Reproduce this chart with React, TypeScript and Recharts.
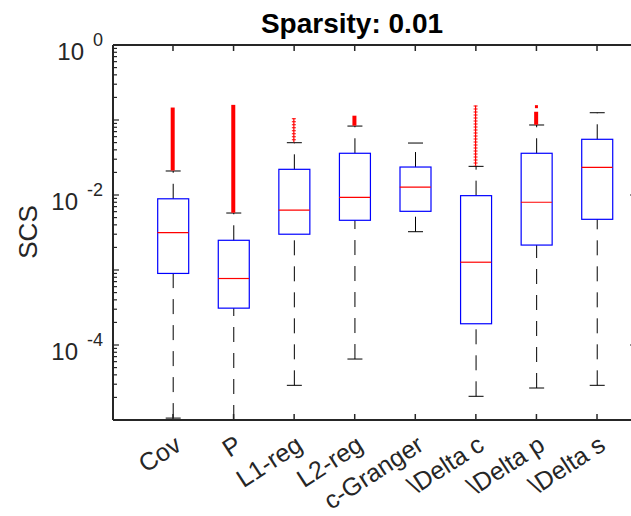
import { ComposedChart, Bar, Scatter, XAxis, YAxis } from 'recharts';

// one box per method
const methods = ['Cov', 'P', 'L1-reg', 'L2-reg', 'c-Granger', '\\Delta c', '\\Delta p', '\\Delta s'];
const lowerWhisker = [1.06e-5, 1.0e-5, 2.9e-5, 6.5e-5, 3.24e-3, 2.07e-5, 2.67e-5, 2.9e-5];
const q1 = [9.0e-4, 3.1e-4, 3.0e-3, 4.6e-3, 6.06e-3, 1.92e-4, 2.15e-3, 4.74e-3];
const medians = [3.15e-3, 7.7e-4, 6.3e-3, 9.3e-3, 1.27e-2, 1.27e-3, 8.0e-3, 2.34e-2];
const q3 = [8.9e-3, 2.49e-3, 2.2e-2, 3.6e-2, 2.36e-2, 9.8e-3, 3.6e-2, 5.53e-2];
const upperWhisker = [2.09e-2, 5.75e-3, 4.98e-2, 8.3e-2, 4.93e-2, 2.41e-2, 8.58e-2, 1.25e-1];
// outliers are so dense they read as one red column from bottom to top
const outlierLow = [2.12e-2, 5.8e-3, 5.05e-2, 8.4e-2, null, 2.45e-2, 8.65e-2, null];
const outlierHigh = [0.14, 0.152, 0.102, 0.109, null, 0.151, 0.123, null];
const farOutliers = [null, null, null, null, null, null, 0.1506, null];

const yDecades = [1e-5, 1e-4, 1e-3, 1e-2, 1e-1, 1];
const yLabelled = [-4, -2, 0];
const sparseOutliers = ['L1-reg', '\\Delta c'];

const yTicks: number[] = [...yDecades];
yDecades.slice(0, -1).forEach(d => {
  for (let m = 2; m <= 9; m++) yTicks.push(m * d);
});

const data = methods.map((name, i) => ({
  name,
  lo: lowerWhisker[i],
  q1: q1[i],
  median: medians[i],
  q3: q3[i],
  hi: upperWhisker[i],
  outLo: outlierLow[i],
  outHi: outlierHigh[i],
  far: farOutliers[i],
}));

const FONT = '"Liberation Sans", Arial, Helvetica, sans-serif';
const AXIS = '#262626';
const CHART_W = 700;
const CHART_H = 516;
const xPadding = { left: 29.7, right: 8.7 };

function isMajor(v: number) {
  const e = Math.log10(v);
  return Math.abs(e - Math.round(e)) < 1e-6;
}

function LeftTick(props: any) {
  const { x, y, payload } = props;
  const v = payload.value;
  const major = isMajor(v);
  const e = Math.round(Math.log10(v));
  return (
    <g>
      <line x1={x} x2={x + (major ? 6 : 4)} y1={y} y2={y} stroke={AXIS} strokeWidth={1.2} />
      {major && yLabelled.includes(e) && (
        <text x={x - 10} y={y + 15} textAnchor="end" fontSize={24} fill={AXIS} fontFamily={FONT}>
          10
          <tspan dx={9} dy={-14} fontSize={18}>
            {String(e)}
          </tspan>
        </text>
      )}
    </g>
  );
}

function RightTick(props: any) {
  const { x, y, payload } = props;
  const len = isMajor(payload.value) && yLabelled.includes(Math.round(Math.log10(payload.value))) ? 6 : 4;
  return <line x1={x} x2={x - len} y1={y} y2={y} stroke={AXIS} strokeWidth={1.2} />;
}

function BottomTick(props: any) {
  const { x, y, payload } = props;
  const tx = x + 10;
  const ty = y + 29;
  return (
    <g>
      <line x1={x} x2={x} y1={y} y2={y - 6} stroke={AXIS} strokeWidth={1.5} />
      <text
        x={tx}
        y={ty}
        transform={`rotate(-33, ${tx}, ${ty})`}
        textAnchor="end"
        fontSize={25}
        fill={AXIS}
        fontFamily={FONT}
      >
        {payload.value}
      </text>
    </g>
  );
}

function TopTick(props: any) {
  const { x, y } = props;
  return <line x1={x} x2={x} y1={y} y2={y + 6} stroke={AXIS} strokeWidth={1.5} />;
}

const ok = (...n: number[]) => n.every(v => Number.isFinite(v));

// whiskers are drawn from their lower end upward, like MATLAB does
function LowerWhisker(props: any) {
  const { x, y, width, height } = props;
  if (!ok(x, y, width, height)) return <g />;
  const cx = x + width / 2;
  return (
    <g>
      <line x1={cx} x2={cx} y1={y + height} y2={y} stroke="#000" strokeWidth={1} strokeDasharray="15 11" />
      <line x1={x} x2={x + width} y1={y + height} y2={y + height} stroke="#000" strokeWidth={1} />
    </g>
  );
}

function UpperWhisker(props: any) {
  const { x, y, width, height } = props;
  if (!ok(x, y, width, height)) return <g />;
  const cx = x + width / 2;
  return (
    <g>
      <line x1={cx} x2={cx} y1={y + height} y2={y} stroke="#000" strokeWidth={1} strokeDasharray="15 11" />
      <line x1={x} x2={x + width} y1={y} y2={y} stroke="#000" strokeWidth={1} />
    </g>
  );
}

function BoxShape(props: any) {
  const { x, y, width, height } = props;
  if (!ok(x, y, width, height)) return <g />;
  return <rect x={x} y={y} width={width} height={height} fill="none" stroke="#0000ff" strokeWidth={1.2} />;
}

function OutlierShape(props: any) {
  const { x, y, width, height, payload } = props;
  if (!payload || payload.outHi == null || !ok(x, y, width, height)) return <g />;
  const cx = x + width / 2;
  if (sparseOutliers.includes(payload.name)) {
    return (
      <g>
        <line x1={cx} x2={cx} y1={y - 1} y2={y + height} stroke="#ff0000" strokeWidth={1.2} />
        <line x1={cx} x2={cx} y1={y - 1} y2={y + height} stroke="#ff0000" strokeWidth={4} strokeDasharray="1 2" />
      </g>
    );
  }
  return <rect x={cx - 2} y={y - 1.5} width={4} height={height + 1.5} fill="#ff0000" />;
}

function MedianShape(props: any) {
  const { cx, cy } = props;
  if (!ok(cx, cy)) return <g />;
  return <line x1={cx - 15.5} x2={cx + 15.5} y1={cy} y2={cy} stroke="#ff0000" strokeWidth={1.2} />;
}

function FarOutlierShape(props: any) {
  const { cx, cy, payload } = props;
  if (!payload || payload.far == null || !ok(cx, cy)) return <g />;
  return <rect x={cx - 1.5} y={cy - 1.5} width={3} height={3} fill="#ff0000" />;
}

export default function App() {
  return (
    <div style={{ position: 'absolute', left: 0, top: 0, width: 631, height: 516, overflow: 'hidden', background: '#fff' }}>
      <ComposedChart
        width={CHART_W}
        height={CHART_H}
        data={data}
        margin={{ top: 40, right: 54, bottom: 36, left: 53 }}
      >
        <XAxis
          xAxisId="x"
          dataKey="name"
          height={60}
          padding={xPadding}
          interval={0}
          tickSize={0}
          tickMargin={0}
          tickLine={false}
          tick={<BottomTick />}
          axisLine={{ stroke: AXIS, strokeWidth: 2 }}
        />
        <XAxis
          xAxisId="top"
          orientation="top"
          dataKey="name"
          height={5}
          padding={xPadding}
          interval={0}
          tickSize={0}
          tickMargin={0}
          tickLine={false}
          tick={<TopTick />}
          axisLine={{ stroke: AXIS, strokeWidth: 2 }}
        />
        {/* helper axes so each box part gets its own full-width band */}
        <XAxis xAxisId="b" orientation="top" dataKey="name" height={0} padding={xPadding} hide />
        <XAxis xAxisId="c" orientation="top" dataKey="name" height={0} padding={xPadding} hide />
        <XAxis xAxisId="d" orientation="top" dataKey="name" height={0} padding={xPadding} hide />
        <YAxis
          yAxisId="y"
          type="number"
          scale="log"
          domain={[1e-5, 1]}
          allowDataOverflow
          ticks={yTicks}
          interval={0}
          width={60}
          tickSize={0}
          tickMargin={0}
          tickLine={false}
          tick={<LeftTick />}
          axisLine={{ stroke: AXIS, strokeWidth: 2 }}
        />
        <YAxis
          yAxisId="right"
          orientation="right"
          type="number"
          scale="log"
          domain={[1e-5, 1]}
          allowDataOverflow
          ticks={yTicks}
          interval={0}
          width={10}
          tickSize={0}
          tickMargin={0}
          tickLine={false}
          tick={<RightTick />}
          axisLine={{ stroke: AXIS, strokeWidth: 2 }}
        />
        <Bar
          xAxisId="x"
          yAxisId="y"
          dataKey={(d: any) => [d.lo, d.q1]}
          barSize={15}
          shape={<LowerWhisker />}
          isAnimationActive={false}
        />
        <Bar
          xAxisId="b"
          yAxisId="y"
          dataKey={(d: any) => [d.q3, d.hi]}
          barSize={15}
          shape={<UpperWhisker />}
          isAnimationActive={false}
        />
        <Bar
          xAxisId="c"
          yAxisId="y"
          dataKey={(d: any) => [d.q1, d.q3]}
          barSize={31}
          shape={<BoxShape />}
          isAnimationActive={false}
        />
        <Bar
          xAxisId="d"
          yAxisId="y"
          dataKey={(d: any) => (d.outHi == null ? null : [d.outLo, d.outHi])}
          barSize={4}
          shape={<OutlierShape />}
          isAnimationActive={false}
        />
        <Scatter xAxisId="x" yAxisId="y" dataKey="median" shape={<MedianShape />} isAnimationActive={false} />
        <Scatter xAxisId="x" yAxisId="y" dataKey="far" shape={<FarOutlierShape />} isAnimationActive={false} />
      </ComposedChart>
      <svg width={631} height={516} style={{ position: 'absolute', left: 0, top: 0, pointerEvents: 'none' }}>
        <text x={352} y={33} textAnchor="middle" fontSize={28} fontWeight="bold" fill="#000" fontFamily={FONT}>
          Sparsity: 0.01
        </text>
        <text
          transform="translate(37,232) rotate(-90)"
          textAnchor="middle"
          fontSize={26}
          fill={AXIS}
          fontFamily={FONT}
        >
          SCS
        </text>
      </svg>
    </div>
  );
}
